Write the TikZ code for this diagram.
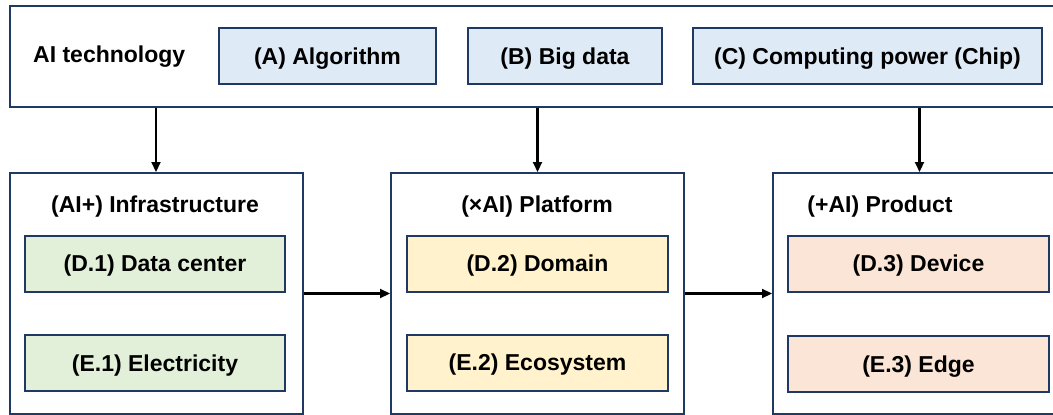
\documentclass[tikz,border=0pt]{standalone}
\usepackage{fontspec}
\setmainfont{Liberation Sans}
\usetikzlibrary{arrows.meta}
\definecolor{navy}{RGB}{31,56,100}
\definecolor{lblue}{RGB}{222,235,247}
\definecolor{lgreen}{RGB}{226,240,217}
\definecolor{lyellow}{RGB}{255,242,204}
\definecolor{lpeach}{RGB}{251,229,214}
\begin{document}
\begin{tikzpicture}[x=1pt,y=-1pt,
  txt/.style={font=\bfseries\fontsize{23}{27}\selectfont},
  frame/.style={draw=navy,line width=2pt,fill=white,inner sep=0pt},
  item/.style={draw=navy,line width=2pt,inner sep=0pt,minimum height=56pt,text height=16pt,text depth=0pt,txt},
  lbl/.style={inner sep=0pt,txt},
  arr/.style={-{Triangle[length=10pt,width=9pt]},line width=2.2pt,black}]
\useasboundingbox (0,0) rectangle (1053,415);
\clip (0,0) rectangle (1053,415);
% top container
\node[frame,minimum width=1060pt,minimum height=101pt,anchor=north west] (tech) at (8.5,5) {};
\node[lbl,anchor=base west] (techlbl) at (33,62) {AI technology};
\node[item,fill=lblue,minimum width=217pt] (A) at (327.5,56) {(A) Algorithm};
\node[item,fill=lblue,minimum width=194pt] (B) at (565,56) {(B) Big data};
\node[item,fill=lblue,minimum width=349pt] (C) at (867.5,56) {(C) Computing power (Chip)};
% bottom containers
\node[frame,minimum width=293pt,minimum height=241pt,anchor=north west] (infra) at (8.5,172) {};
\node[frame,minimum width=293pt,minimum height=241pt,anchor=north west] (plat) at (390,172) {};
\node[frame,minimum width=293pt,minimum height=241pt,anchor=north west] (prod) at (772,172) {};
\node[lbl,anchor=base] (infralbl) at (155,212) {(AI+) Infrastructure};
\node[lbl,anchor=base] (platlbl) at (537,212) {(×AI) Platform};
\node[lbl,anchor=base] (prodlbl) at (880,212) {(+AI) Product};
% inner items
\node[item,fill=lgreen,minimum width=260pt] (D1) at (155,263.5) {(D.1) Data center};
\node[item,fill=lgreen,minimum width=260pt] (E1) at (155,363) {(E.1) Electricity};
\node[item,fill=lyellow,minimum width=261pt] (D2) at (537.5,263.5) {(D.2) Domain};
\node[item,fill=lyellow,minimum width=261pt] (E2) at (537.5,362.5) {(E.2) Ecosystem};
\node[item,fill=lpeach,minimum width=261pt] (D3) at (918.5,263.5) {(D.3) Device};
\node[item,fill=lpeach,minimum width=261pt] (E3) at (918.5,364) {(E.3) Edge};
% connectors
\draw[arr] (tech.south -| infra.north) -- (infra.north);
\draw[arr] (tech.south -| plat.north) -- (plat.north);
\draw[arr] (tech.south -| prod.north) -- (prod.north);
\draw[arr] (infra.east) -- (plat.west);
\draw[arr] (plat.east) -- (prod.west);
\end{tikzpicture}
\end{document}
